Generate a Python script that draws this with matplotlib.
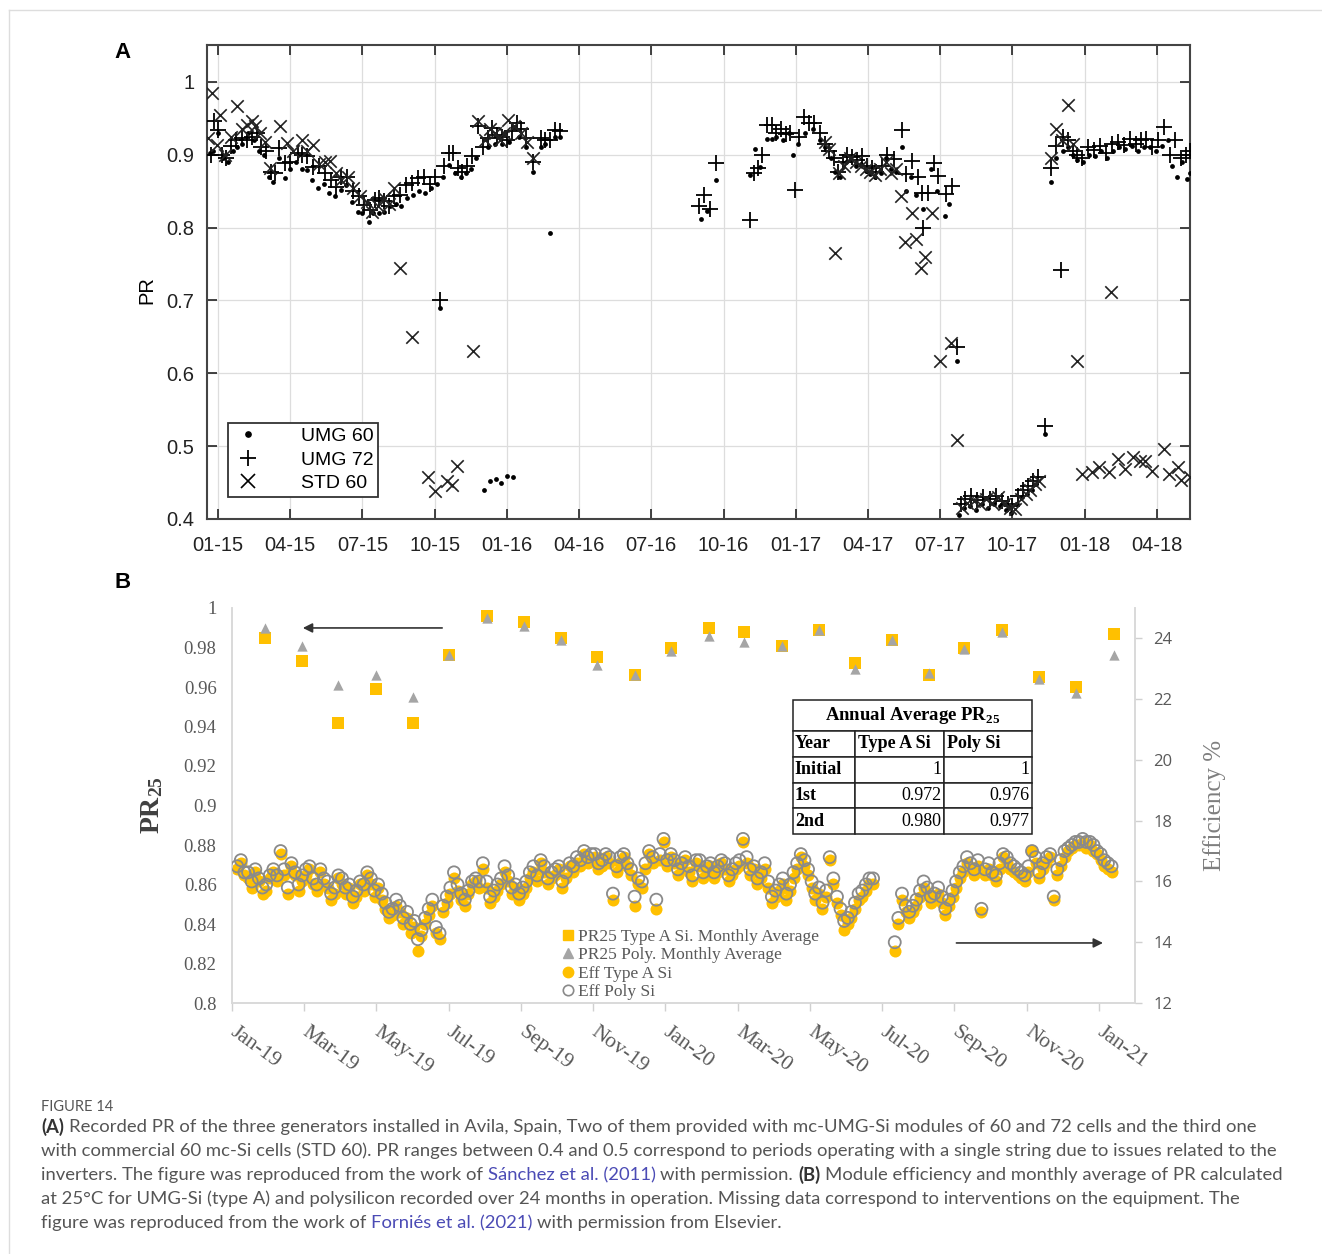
import matplotlib.pyplot as plt
from matplotlib.lines import Line2D

# ---------------- panel A: recorded PR, x = months since Jan 2015 ----------------
a_xticklabels = ["01-15", "04-15", "07-15", "10-15", "01-16", "04-16", "07-16",
                 "10-16", "01-17", "04-17", "07-17", "10-17", "01-18", "04-18"]
a_yticks = [0.4, 0.5, 0.6, 0.7, 0.8, 0.9, 1.0]
a_yticklabels = ["0.4", "0.5", "0.6", "0.7", "0.8", "0.9", "1"]

umg60 = [(-0.35, 0.902), (-0.2, 0.905), (0.0, 0.930), (0.2, 0.895), (0.4, 0.890), (0.6, 0.905),
         (0.8, 0.910), (1.0, 0.915), (1.25, 0.930), (1.5, 0.920), (1.7, 0.905), (1.9, 0.900),
         (2.1, 0.870), (2.3, 0.863), (2.55, 0.895), (2.8, 0.868), (3.0, 0.880), (3.25, 0.890),
         (3.5, 0.880), (3.7, 0.879), (3.9, 0.866), (4.15, 0.854), (4.4, 0.860), (4.6, 0.848),
         (4.85, 0.843), (5.1, 0.852), (5.3, 0.858), (5.55, 0.835), (5.8, 0.822), (6.0, 0.820),
         (6.25, 0.808), (6.45, 0.820), (6.7, 0.820), (6.9, 0.822), (7.15, 0.830), (7.4, 0.832),
         (7.6, 0.829), (7.85, 0.840), (8.1, 0.845), (8.35, 0.850), (8.6, 0.847), (8.85, 0.855),
         (9.1, 0.860), (9.2, 0.690), (9.35, 0.870), (9.6, 0.886), (9.85, 0.875), (10.1, 0.870),
         (10.3, 0.875), (10.5, 0.880), (10.7, 0.895), (11.05, 0.440), (11.3, 0.452), (11.55, 0.455),
         (11.76, 0.450), (12.0, 0.459), (12.26, 0.457), (11.2, 0.910), (11.5, 0.915), (11.8, 0.915),
         (12.1, 0.917), (12.5, 0.925), (12.8, 0.910), (13.1, 0.877), (13.4, 0.910), (13.6, 0.915),
         (13.8, 0.792), (14.0, 0.925), (14.2, 0.925),
         (20.05, 0.812), (20.3, 0.823), (20.7, 0.865), (22.1, 0.872), (22.3, 0.908), (22.5, 0.883),
         (22.8, 0.922), (23.0, 0.922), (23.2, 0.925), (23.45, 0.920), (23.7, 0.930), (23.9, 0.900),
         (24.1, 0.915), (24.4, 0.930), (24.7, 0.935), (25.0, 0.920), (25.2, 0.910), (25.45, 0.895),
         (25.65, 0.876), (25.85, 0.870), (26.1, 0.890), (26.3, 0.893), (26.5, 0.885), (26.7, 0.888),
         (26.9, 0.878), (27.1, 0.873), (27.3, 0.870), (27.55, 0.875), (27.75, 0.895), (27.95, 0.880),
         (28.15, 0.876), (28.4, 0.910), (28.6, 0.850), (28.8, 0.870), (29.0, 0.845), (29.3, 0.826),
         (29.6, 0.880), (29.85, 0.850), (30.2, 0.816), (30.35, 0.832), (30.7, 0.617),
         (30.8, 0.405), (31.0, 0.415), (31.25, 0.418), (31.5, 0.413), (31.75, 0.420), (32.0, 0.415),
         (32.25, 0.420), (32.5, 0.418), (32.75, 0.412), (32.95, 0.408), (33.2, 0.420), (33.4, 0.430),
         (33.6, 0.435), (33.8, 0.440), (34.0, 0.448), (34.35, 0.517),
         (34.6, 0.862), (34.8, 0.895), (35.1, 0.905), (35.3, 0.910), (35.5, 0.900), (35.7, 0.893),
         (35.95, 0.890), (36.2, 0.900), (36.45, 0.898), (36.7, 0.905), (36.95, 0.895), (37.2, 0.905),
         (37.45, 0.910), (37.7, 0.908), (37.95, 0.912), (38.2, 0.905), (38.45, 0.910), (38.7, 0.910),
         (38.95, 0.905), (39.2, 0.912), (39.45, 0.920), (39.65, 0.885), (39.85, 0.870), (40.05, 0.890),
         (40.25, 0.867), (40.4, 0.875)]

umg72 = [(-0.3, 0.900), (-0.15, 0.946), (0.0, 0.934), (0.15, 0.900), (0.35, 0.895), (0.55, 0.912),
         (0.75, 0.920), (1.0, 0.923), (1.2, 0.920), (1.4, 0.925), (1.6, 0.930), (1.8, 0.910),
         (2.0, 0.905), (2.2, 0.877), (2.35, 0.875), (2.55, 0.909), (2.8, 0.889), (3.0, 0.890),
         (3.3, 0.902), (3.5, 0.900), (3.7, 0.898), (3.95, 0.883), (4.2, 0.884), (4.45, 0.875),
         (4.7, 0.866), (4.9, 0.856), (5.1, 0.870), (5.35, 0.870), (5.6, 0.850), (5.85, 0.843),
         (6.05, 0.831), (6.3, 0.824), (6.5, 0.838), (6.7, 0.840), (6.9, 0.836), (7.1, 0.829),
         (7.3, 0.843), (7.55, 0.845), (7.8, 0.858), (8.05, 0.861), (8.3, 0.868), (8.55, 0.870),
         (8.8, 0.860), (9.0, 0.870), (9.2, 0.700), (9.4, 0.885), (9.6, 0.902), (9.75, 0.902),
         (9.95, 0.882), (10.15, 0.877), (10.35, 0.884), (10.55, 0.898), (10.8, 0.940), (11.0, 0.910),
         (11.2, 0.923), (11.4, 0.937), (11.6, 0.927), (11.8, 0.925), (12.0, 0.920), (12.2, 0.932),
         (12.4, 0.944), (12.6, 0.935), (12.8, 0.923), (13.1, 0.890), (13.4, 0.923), (13.6, 0.920),
         (13.8, 0.920), (14.0, 0.934), (14.2, 0.932),
         (20.0, 0.830), (20.2, 0.845), (20.45, 0.825), (20.7, 0.889), (22.1, 0.811), (22.25, 0.875),
         (22.45, 0.882), (22.6, 0.900), (22.8, 0.941), (23.0, 0.941), (23.2, 0.930), (23.4, 0.936),
         (23.6, 0.928), (23.75, 0.930), (23.97, 0.852), (24.15, 0.925), (24.35, 0.952), (24.55, 0.943),
         (24.75, 0.943), (25.0, 0.930), (25.2, 0.915), (25.4, 0.905), (25.6, 0.895), (25.75, 0.876),
         (25.95, 0.890), (26.15, 0.900), (26.35, 0.897), (26.55, 0.893), (26.75, 0.898), (26.95, 0.885),
         (27.15, 0.882), (27.35, 0.876), (27.6, 0.884), (27.8, 0.900), (28.1, 0.894), (28.4, 0.934),
         (28.6, 0.873), (28.85, 0.892), (29.1, 0.869), (29.26, 0.847), (29.3, 0.800), (29.5, 0.847),
         (29.75, 0.889), (29.9, 0.871), (30.25, 0.846), (30.5, 0.857), (30.7, 0.636),
         (30.85, 0.420), (31.05, 0.428), (31.3, 0.432), (31.55, 0.426), (31.8, 0.430), (32.05, 0.428),
         (32.3, 0.432), (32.55, 0.425), (32.8, 0.420), (33.0, 0.418), (33.25, 0.432), (33.45, 0.440),
         (33.65, 0.445), (33.85, 0.452), (34.05, 0.458), (34.35, 0.527),
         (34.6, 0.882), (34.8, 0.912), (35.0, 0.742), (35.1, 0.925), (35.3, 0.920), (35.5, 0.905),
         (35.7, 0.900), (35.9, 0.896), (36.15, 0.910), (36.4, 0.906), (36.65, 0.912), (36.9, 0.902),
         (37.15, 0.915), (37.4, 0.918), (37.65, 0.914), (37.9, 0.922), (38.15, 0.915), (38.35, 0.920),
         (38.55, 0.922), (38.8, 0.910), (39.05, 0.920), (39.3, 0.938), (39.55, 0.900), (39.75, 0.920),
         (40.0, 0.895), (40.2, 0.900), (40.4, 0.905)]

std60 = [(-0.4, 0.923), (-0.25, 0.985), (-0.05, 0.914), (0.1, 0.955), (0.3, 0.900), (0.55, 0.925),
         (0.79, 0.967), (1.0, 0.935), (1.2, 0.941), (1.4, 0.946), (1.55, 0.940), (1.75, 0.930),
         (1.96, 0.918), (2.17, 0.882), (2.58, 0.939), (2.85, 0.916), (3.1, 0.905), (3.48, 0.920),
         (3.7, 0.905), (3.96, 0.914), (4.2, 0.888), (4.45, 0.890), (4.65, 0.891), (4.9, 0.875),
         (5.1, 0.865), (5.4, 0.870), (5.6, 0.855), (5.9, 0.843), (6.2, 0.835), (6.4, 0.822),
         (6.65, 0.830), (6.9, 0.840), (7.1, 0.832), (7.3, 0.854), (7.56, 0.744), (8.06, 0.650),
         (8.72, 0.457), (9.0, 0.438), (9.5, 0.452), (9.7, 0.447), (9.93, 0.473), (10.6, 0.630),
         (10.8, 0.946), (11.1, 0.920), (11.3, 0.935), (11.5, 0.930), (11.7, 0.920), (11.9, 0.930),
         (12.05, 0.948), (12.3, 0.940), (12.6, 0.930), (12.85, 0.918), (13.1, 0.895),
         (25.2, 0.917), (25.4, 0.908), (25.65, 0.765), (25.8, 0.875), (26.0, 0.885), (26.25, 0.895),
         (26.5, 0.890), (26.7, 0.885), (26.9, 0.880), (27.1, 0.876), (27.3, 0.872), (27.5, 0.880),
         (27.75, 0.890), (27.95, 0.875), (28.15, 0.880), (28.36, 0.843), (28.55, 0.780), (28.85, 0.820),
         (29.0, 0.785), (29.2, 0.745), (29.35, 0.760), (29.65, 0.820), (30.0, 0.617), (30.45, 0.641),
         (30.7, 0.508),
         (30.9, 0.415), (31.1, 0.422), (31.4, 0.425), (31.65, 0.420), (31.9, 0.428), (32.15, 0.422),
         (32.4, 0.430), (32.65, 0.420), (32.9, 0.415), (33.1, 0.414), (33.35, 0.428), (33.55, 0.435),
         (33.75, 0.440), (33.95, 0.448), (34.1, 0.452),
         (34.6, 0.896), (34.8, 0.935), (35.05, 0.920), (35.3, 0.968), (35.5, 0.915), (35.7, 0.617),
         (35.9, 0.462), (36.3, 0.464), (36.6, 0.471), (37.0, 0.464), (37.1, 0.711), (37.4, 0.483),
         (37.7, 0.469), (38.0, 0.485), (38.3, 0.480), (38.5, 0.480), (38.8, 0.466), (39.3, 0.496),
         (39.5, 0.462), (39.9, 0.471), (40.0, 0.453), (40.4, 0.457)]

# ---------------- panel B: PR25 and efficiency, x = months since Jan 2019 ----------------
b_xticklabels = ["Jan-19", "Mar-19", "May-19", "Jul-19", "Sep-19", "Nov-19", "Jan-20",
                 "Mar-20", "May-20", "Jul-20", "Sep-20", "Nov-20", "Jan-21"]
b_yticks = [0.8, 0.82, 0.84, 0.86, 0.88, 0.9, 0.92, 0.94, 0.96, 0.98, 1.0]
b_yticklabels = ["0.8", "0.82", "0.84", "0.86", "0.88", "0.9", "0.92", "0.94", "0.96", "0.98", "1"]
eff_ticks = [12, 14, 16, 18, 20, 22, 24]

month_x = [0.92, 1.94, 2.94, 3.99, 5.02, 6.02, 7.06, 8.08, 9.1, 10.12, 11.15, 12.17,
           13.2, 14.19, 15.22, 16.24, 17.24, 18.27, 19.3, 20.28, 21.33, 22.33, 23.36, 24.41]
pr25_type_a = [0.985, 0.973, 0.942, 0.959, 0.942, 0.976, 0.996, 0.993, 0.985, 0.975, 0.966, 0.980,
               0.990, 0.988, 0.981, 0.989, 0.972, 0.984, 0.966, 0.980, 0.989, 0.965, 0.960, 0.987]
pr25_poly = [0.990, 0.981, 0.961, 0.966, 0.955, 0.976, 0.995, 0.991, 0.984, 0.971, 0.966, 0.978,
             0.986, 0.983, 0.981, 0.989, 0.969, 0.984, 0.967, 0.979, 0.988, 0.964, 0.957, 0.976]

# (month, efficiency type A %, efficiency poly %)
eff = [(0.15, 16.4, 16.5), (0.35, 16.2, 16.3), (0.55, 15.8, 16.0), (0.75, 16.0, 16.1), (0.95, 15.7, 15.9),
       (1.15, 16.3, 16.4), (1.35, 16.9, 17.0), (1.55, 15.6, 15.8), (1.75, 16.2, 16.3), (1.95, 16.0, 16.2),
       (2.15, 16.4, 16.5), (2.35, 15.7, 15.9), (2.55, 15.9, 16.1), (2.75, 15.4, 15.6), (2.95, 16.1, 16.2),
       (3.15, 15.6, 15.8), (3.35, 15.3, 15.5), (3.55, 15.9, 16.0), (3.75, 16.2, 16.3), (3.95, 15.5, 15.7),
       (4.15, 15.4, 15.6), (4.35, 14.8, 15.0), (4.55, 15.2, 15.4), (4.75, 14.6, 14.8), (4.95, 14.3, 14.6),
       (5.15, 13.7, 14.1), (5.35, 14.6, 14.8), (5.55, 15.2, 15.4), (5.75, 14.1, 14.3), (5.95, 15.3, 15.5),
       (6.15, 16.1, 16.3), (6.35, 15.4, 15.6), (6.55, 15.6, 15.7), (6.75, 16.0, 16.1), (6.95, 16.4, 16.6),
       (7.15, 15.3, 15.5), (7.35, 15.7, 15.9), (7.55, 16.3, 16.5), (7.75, 15.6, 15.8), (7.95, 15.4, 15.6),
       (8.15, 15.8, 16.0), (8.35, 16.3, 16.5), (8.55, 16.6, 16.7), (8.75, 15.9, 16.1), (8.95, 16.2, 16.4),
       (9.15, 15.8, 16.0), (9.35, 16.5, 16.6), (9.55, 16.6, 16.8), (9.75, 16.9, 17.0), (9.95, 16.7, 16.9),
       (10.15, 16.4, 16.6), (10.35, 16.8, 16.9), (10.55, 15.4, 15.6), (10.75, 16.6, 16.8), (10.95, 16.5, 16.6),
       (11.15, 15.2, 15.5), (11.35, 15.8, 16.0), (11.55, 16.9, 17.0), (11.75, 15.1, 15.4), (11.95, 17.3, 17.4),
       (12.15, 16.8, 16.9), (12.35, 16.2, 16.4), (12.55, 16.7, 16.8), (12.75, 16.0, 16.2), (12.95, 16.5, 16.7),
       (13.15, 16.3, 16.5), (13.35, 16.1, 16.3), (13.55, 16.6, 16.7), (13.75, 16.0, 16.2), (13.95, 16.4, 16.6),
       (14.15, 17.3, 17.4), (14.35, 16.2, 16.4), (14.55, 15.9, 16.1), (14.75, 16.4, 16.6), (14.95, 15.3, 15.5),
       (15.15, 15.7, 15.9), (15.35, 15.4, 15.6), (15.55, 16.1, 16.3), (15.75, 16.8, 16.9), (15.95, 16.2, 16.4),
       (16.15, 15.4, 15.6), (16.35, 15.1, 15.3), (16.55, 16.7, 16.8), (16.75, 15.3, 15.5), (16.95, 14.4, 14.7),
       (17.15, 14.8, 15.0), (17.35, 15.4, 15.6), (17.55, 15.7, 15.9), (17.75, 15.9, 16.1),
       (18.35, 13.7, 14.0), (18.55, 15.4, 15.6), (18.75, 14.8, 15.0), (18.95, 15.2, 15.4), (19.15, 15.8, 16.0),
       (19.35, 15.3, 15.5), (19.55, 15.6, 15.8), (19.75, 14.9, 15.1), (19.95, 15.5, 15.7), (20.15, 16.1, 16.3),
       (20.35, 16.6, 16.8), (20.55, 16.2, 16.4), (20.75, 15.0, 15.1), (20.95, 16.4, 16.6), (21.15, 16.0, 16.2),
       (21.35, 16.8, 16.9), (21.55, 16.4, 16.6), (21.75, 16.2, 16.4), (21.95, 16.0, 16.2), (22.15, 17.0, 17.0),
       (22.35, 16.1, 16.3), (22.55, 16.6, 16.8), (22.75, 15.4, 15.5), (22.95, 16.5, 16.7), (23.15, 17.0, 17.1),
       (23.35, 17.2, 17.3), (23.55, 17.3, 17.4), (23.75, 17.2, 17.3), (23.95, 16.9, 17.0), (24.15, 16.5, 16.7),
       (24.35, 16.3, 16.5),
       (0.25, 16.6, 16.7), (0.45, 16.1, 16.3), (0.65, 16.3, 16.4), (0.85, 15.6, 15.8), (1.05, 16.1, 16.2),
       (1.25, 16.0, 16.2), (1.45, 16.2, 16.4), (1.65, 16.5, 16.6), (1.85, 15.7, 15.9), (2.05, 16.2, 16.4),
       (2.25, 15.9, 16.1), (2.45, 16.3, 16.4), (2.65, 15.8, 16.0), (2.85, 15.6, 15.8), (3.05, 15.9, 16.1),
       (3.25, 15.8, 15.9), (3.45, 15.5, 15.7), (3.65, 15.7, 15.9), (3.85, 15.9, 16.1), (4.05, 15.8, 15.9),
       (4.25, 15.1, 15.3), (4.45, 14.9, 15.1), (4.65, 15.0, 15.2), (4.85, 14.8, 15.0), (5.05, 14.5, 14.7),
       (5.25, 14.2, 14.4), (5.45, 14.9, 15.1), (5.65, 14.3, 14.5), (5.85, 15.0, 15.2), (6.05, 15.6, 15.8),
       (6.25, 15.7, 15.9), (6.45, 15.2, 15.4), (6.65, 15.9, 16.0), (6.85, 15.8, 16.0), (7.05, 15.8, 16.0),
       (7.25, 15.5, 15.7), (7.45, 15.9, 16.1), (7.65, 16.0, 16.2), (7.85, 15.8, 15.9), (8.05, 15.6, 15.8),
       (8.25, 16.1, 16.3), (8.45, 16.0, 16.2), (8.65, 16.3, 16.5), (8.85, 16.1, 16.3), (9.05, 16.4, 16.5),
       (9.25, 16.1, 16.3), (9.45, 16.3, 16.5), (9.65, 16.5, 16.7), (9.85, 16.6, 16.8), (10.05, 16.8, 16.9),
       (10.25, 16.5, 16.7), (10.45, 16.6, 16.8), (10.65, 16.3, 16.5), (10.85, 16.8, 16.9), (11.05, 16.2, 16.4),
       (11.25, 15.9, 16.1), (11.45, 16.4, 16.6), (11.65, 16.6, 16.8), (11.85, 16.7, 16.9), (12.05, 16.5, 16.7),
       (12.25, 16.6, 16.7), (12.45, 16.4, 16.6), (12.65, 16.3, 16.5), (12.85, 16.6, 16.7), (13.05, 16.1, 16.3),
       (13.25, 16.5, 16.6), (13.45, 16.3, 16.5), (13.65, 16.4, 16.6), (13.85, 16.2, 16.4), (14.05, 16.5, 16.7),
       (14.25, 16.6, 16.8), (14.45, 16.4, 16.5), (14.65, 16.1, 16.3), (14.85, 15.8, 16.0), (15.05, 15.5, 15.7),
       (15.25, 15.9, 16.1), (15.45, 15.7, 15.9), (15.65, 16.4, 16.6), (15.85, 16.5, 16.7), (16.05, 15.8, 16.0),
       (16.25, 15.6, 15.8), (16.45, 15.5, 15.7), (16.65, 15.9, 16.1), (16.85, 14.9, 15.1), (17.05, 14.6, 14.8),
       (17.25, 15.1, 15.3), (17.45, 15.5, 15.7), (17.65, 15.9, 16.1),
       (18.45, 14.6, 14.8), (18.65, 15.0, 15.2), (18.85, 15.0, 15.2), (19.05, 15.5, 15.7), (19.25, 15.6, 15.8),
       (19.45, 15.4, 15.6), (19.65, 15.3, 15.5), (19.85, 15.2, 15.4), (20.05, 15.8, 16.0), (20.25, 16.3, 16.5),
       (20.45, 16.4, 16.6), (20.65, 16.5, 16.7), (20.85, 16.2, 16.4), (21.05, 16.2, 16.3), (21.25, 16.4, 16.6),
       (21.45, 16.6, 16.8), (21.65, 16.3, 16.5), (21.85, 16.1, 16.3), (22.05, 16.3, 16.5), (22.25, 16.6, 16.8),
       (22.45, 16.4, 16.6), (22.65, 16.8, 16.9), (22.85, 16.2, 16.4), (23.05, 16.8, 17.0), (23.25, 17.1, 17.2),
       (23.45, 17.2, 17.3), (23.65, 17.1, 17.3), (23.85, 17.0, 17.2), (24.05, 16.7, 16.9), (24.25, 16.4, 16.6)]

table_title = r"Annual Average PR$_{\mathbf{25}}$"
table_header = ["Year", "Type A Si", "Poly Si"]
table_rows = [["Initial", "1", "1"], ["1st", "0.972", "0.976"], ["2nd", "0.980", "0.977"]]

# ---------------- figure ----------------
W, H = 1322, 1254
plt.rcParams["font.family"] = ["Liberation Sans", "DejaVu Sans"]
plt.rcParams["mathtext.fontset"] = "custom"
plt.rcParams["mathtext.rm"] = "Liberation Serif"
plt.rcParams["mathtext.bf"] = "Liberation Serif:bold"

fig = plt.figure(figsize=(W / 100, H / 100), dpi=100)


def box(left, top, right, bottom):
    return [left / W, 1 - bottom / H, (right - left) / W, (bottom - top) / H]


SERIF = "Liberation Serif"
GOLD = "#FFC000"
GREY = "#A5A5A5"

# panel A
axA = fig.add_axes(box(207, 45, 1190, 519))
x, y = zip(*umg60)
axA.scatter(x, y, marker="o", s=12, color="black", linewidths=0, zorder=3)
x, y = zip(*umg72)
axA.scatter(x, y, marker="+", s=120, color="black", linewidths=1.3, zorder=3)
x, y = zip(*std60)
axA.scatter(x, y, marker="x", s=80, color="#222222", linewidths=1.2, zorder=3)
axA.set_xlim(-0.46, 40.38)
axA.set_ylim(0.4, 1.0507)
axA.set_xticks(range(0, 40, 3))
axA.set_xticklabels(a_xticklabels)
axA.set_yticks(a_yticks)
axA.set_yticklabels(a_yticklabels)
axA.grid(True, color="#dddddd", lw=0.9)
axA.set_axisbelow(True)
axA.tick_params(direction="in", top=True, right=True, length=7, width=1.2,
                labelsize=14.5, colors="#222222")
axA.tick_params(axis="x", pad=12)
axA.tick_params(axis="y", pad=9)
for sp in axA.spines.values():
    sp.set_color("#444444")
    sp.set_linewidth(1.5)
handles = [Line2D([], [], marker="o", ms=3.8, ls="none", color="black"),
           Line2D([], [], marker="+", ms=12, mew=1.3, ls="none", color="black"),
           Line2D([], [], marker="x", ms=9.5, mew=1.2, ls="none", color="black")]
legA = fig.legend(handles, ["UMG 60", "UMG 72", "STD 60"], loc="lower left",
                  bbox_to_anchor=(228 / W, 1 - 497 / H), fontsize=14, fancybox=False,
                  edgecolor="#333333", framealpha=1, handlelength=1.6, handletextpad=1.9,
                  labelspacing=0.3, borderpad=0.25, borderaxespad=0)
legA.get_frame().set_linewidth(1.3)
fig.text(147 / W, 1 - 290 / H, "PR", rotation=90, ha="center", va="center", fontsize=14.5)
fig.text(123 / W, 1 - 53 / H, "A", ha="center", va="center", fontsize=16, fontweight="bold")
fig.text(123 / W, 1 - 582 / H, "B", ha="center", va="center", fontsize=16, fontweight="bold")

# panel B
axB = fig.add_axes(box(231.8, 608, 1135, 1003))
axB.set_xlim(0, 25)
axB.set_ylim(0.8, 1.0)
axE = axB.twinx()
axE.set_ylim(12, 25)

ex, ea, ep = zip(*eff)
axE.scatter(ex, ea, marker="o", s=75, color=GOLD, linewidths=0, zorder=2)
axE.scatter(ex, ep, marker="o", s=75, facecolors="none", edgecolors="#8a8a8a", linewidths=1.3, zorder=3)
axB.scatter(month_x, pr25_type_a, marker="s", s=70, color=GOLD, linewidths=0, zorder=3)
axB.scatter(month_x, pr25_poly, marker="^", s=55, color=GREY, linewidths=0, zorder=4)

axB.set_xticks(range(0, 25, 2))
axB.set_xticklabels(b_xticklabels, rotation=-36, ha="left", va="center", rotation_mode="anchor",
                    fontfamily=SERIF, fontsize=15.5, color="#595959")
axB.tick_params(axis="x", direction="out", length=6, width=1, color="#d0d0d0", pad=14)
axB.set_yticks(b_yticks)
axB.set_yticklabels(b_yticklabels, fontfamily=SERIF, fontsize=13.5, color="#595959")
axB.tick_params(axis="y", length=0, pad=11)
axE.set_yticks(eff_ticks)
axE.set_yticklabels([str(v) for v in eff_ticks], fontfamily="Open Sans", fontsize=12, color="#595959")
axE.tick_params(axis="y", direction="out", length=5, width=1, color="#d0d0d0", pad=8)
for ax in (axB, axE):
    ax.spines["top"].set_visible(False)
    for s in ("left", "right", "bottom"):
        ax.spines[s].set_color("#d9d9d9")
        ax.spines[s].set_linewidth(1.2)

fig.text(152 / W, 1 - 805 / H, r"$\mathbf{PR_{25}}$", rotation=90, ha="center", va="center",
         fontsize=20, color="#404040")
fig.text(1215 / W, 1 - 805 / H, "Efficiency %", rotation=90, ha="center", va="center",
         fontsize=18, fontfamily=SERIF, color="#7f7f7f")

axB.annotate("", xy=(1.89, 0.9899), xytext=(5.9, 0.9899),
             arrowprops=dict(arrowstyle="-|>", color="#333333", lw=1.2, mutation_scale=14))
axB.annotate("", xy=(24.19, 0.8304), xytext=(19.98, 0.8304),
             arrowprops=dict(arrowstyle="-|>", color="#333333", lw=1.2, mutation_scale=14))

handles = [Line2D([], [], marker="s", ms=7, ls="none", color=GOLD),
           Line2D([], [], marker="^", ms=7, ls="none", color=GREY),
           Line2D([], [], marker="o", ms=7.5, ls="none", color=GOLD),
           Line2D([], [], marker="o", ms=7.5, ls="none", mfc="none", mec="#8a8a8a", mew=1.2)]
fig.legend(handles, ["PR25 Type A Si. Monthly Average", "PR25 Poly. Monthly Average",
                     "Eff Type A Si", "Eff Poly Si"],
           loc="upper left", bbox_to_anchor=(562 / W, 1 - 929 / H), frameon=False,
           prop={"family": SERIF, "size": 12.5}, labelcolor="#595959", handlelength=0.7,
           handletextpad=0.25, labelspacing=0.12, borderpad=0, borderaxespad=0)

# summary table
tab = fig.add_axes(box(793, 700, 1032, 834))
tab.axis("off")
widths = [62 / 239, 89 / 239, 88 / 239]
t1 = tab.table(cellText=[[table_title]], bbox=[0, 103 / 134, 1, 31 / 134], cellLoc="center")
t2 = tab.table(cellText=table_rows, colLabels=table_header, colWidths=widths,
               bbox=[0, 0, 1, 103 / 134], cellLoc="right")
for t in (t1, t2):
    t.auto_set_font_size(False)
    for (r, c), cell in t.get_celld().items():
        cell.set_edgecolor("#222222")
        cell.set_linewidth(1.1)
        cell.PAD = 0.03
        bold = (t is t1) or r == 0 or c == 0
        cell.get_text().set_fontfamily(SERIF)
        cell.get_text().set_fontsize(13.5 if t is t1 else 13)
        cell.get_text().set_fontweight("bold" if bold else "normal")
        if t is t2 and (r == 0 or c == 0):
            cell._loc = "left"
            cell.get_text().set_ha("left")

# caption
fig.add_artist(Line2D([9 / W, 1], [1 - 10 / H, 1 - 10 / H], color="#dddddd", lw=1))
fig.add_artist(Line2D([9 / W, 9 / W], [0, 1 - 10 / H], color="#dddddd", lw=1))
fig.text(41 / W, 1 - 1107 / H, "FIGURE 14", fontsize=10.5, fontfamily="Lato", color="#555555",
         va="center")

renderer = fig.canvas.get_renderer()
body = dict(fontfamily="Lato", fontsize=13.3, color="#555555", va="center")


def width(s, **kw):
    t = fig.text(0, 0, s, **kw)
    w = t.get_window_extent(renderer).width
    t.remove()
    return w


space = width("a a", **body) - width("aa", **body)


def caption_line(ypx, runs):
    xpx = 41
    for text, style in runs:
        kw = dict(body)
        if style == "b":
            kw["fontweight"] = "bold"
            kw["color"] = "#333333"
        elif style == "link":
            kw["color"] = "#4b4bb5"
        t = fig.text(xpx / W, 1 - ypx / H, text, **kw)
        xpx += t.get_window_extent(renderer).width + space


caption_line(1127, [("(A)", "b"), ("Recorded PR of the three generators installed in Avila, Spain, Two of them "
                                   "provided with mc-UMG-Si modules of 60 and 72 cells and the third one", "")])
caption_line(1151, [("with commercial 60 mc-Si cells (STD 60). PR ranges between 0.4 and 0.5 correspond to "
                     "periods operating with a single string due to issues related to the", "")])
caption_line(1175, [("inverters. The figure was reproduced from the work of", ""),
                    ("Sánchez et al. (2011)", "link"), ("with permission.", ""), ("(B)", "b"),
                    ("Module efficiency and monthly average of PR calculated", "")])
caption_line(1199, [("at 25°C for UMG-Si (type A) and polysilicon recorded over 24 months in operation. "
                     "Missing data correspond to interventions on the equipment. The", "")])
caption_line(1223, [("figure was reproduced from the work of", ""), ("Forniés et al. (2021)", "link"),
                    ("with permission from Elsevier.", "")])

fig.savefig("out.png", dpi=100)
